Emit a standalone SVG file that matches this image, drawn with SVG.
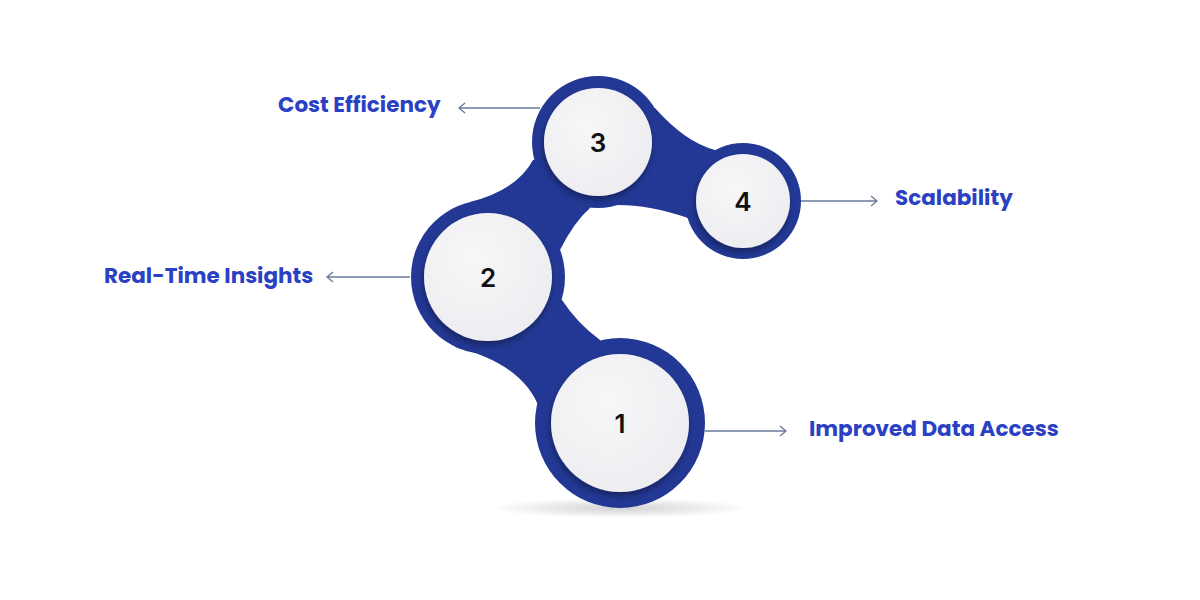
<svg xmlns="http://www.w3.org/2000/svg" width="1200" height="600" viewBox="0 0 1200 600">
<defs>
<style>
.lbl{font-family:"Poppins","Inter","Liberation Sans",sans-serif;font-weight:700;font-size:21.5px;fill:#2b41c4}
.num{font-family:"Inter","Liberation Sans",sans-serif;font-weight:600;font-size:26px;fill:#111;text-anchor:middle}
.blob{fill:#223894}
.inner{fill:url(#g)}
.con{stroke:#6a7b9c;stroke-width:1.3;fill:none}
</style>
<radialGradient id="g" cx="0.4" cy="0.35" r="0.75"><stop offset="0" stop-color="#f7f7f9"/><stop offset="1" stop-color="#ececf0"/></radialGradient>
<filter id="sh" x="-30%" y="-30%" width="160%" height="160%"><feDropShadow dx="-1" dy="4" stdDeviation="3" flood-color="#000" flood-opacity="0.35"/></filter>
<radialGradient id="gs" cx="0.5" cy="0.5" r="0.5"><stop offset="0" stop-color="#000" stop-opacity="0.18"/><stop offset="1" stop-color="#000" stop-opacity="0"/></radialGradient>
</defs>
<rect width="1200" height="600" fill="#fff"/>
<ellipse cx="620" cy="508" rx="130" ry="10" fill="url(#gs)"/>
<g id="body">
<path class="blob" d="M455,347 Q524,364 540,410 L620,423 L600,340 Q577,323 562,300 L488,277 Z"/>
<path class="blob" d="M470,202 Q517,190 533,160 L598,142 L590,208 Q574,222 560,250 L488,277 Z"/>
<path class="blob" d="M655,108 Q685,142 715,150 L743,201 L688,218 Q650,205 618,205 L598,142 Z"/>
<circle class="blob" cx="620" cy="423" r="85"/>
<circle class="blob" cx="488" cy="277" r="77"/>
<circle class="blob" cx="598" cy="142" r="66"/>
<circle class="blob" cx="743" cy="201" r="58"/>
</g>
<g id="n1"><circle class="inner" cx="620" cy="423" r="69" filter="url(#sh)"/><text class="num" x="620" y="433">1</text></g>
<g id="n2"><circle class="inner" cx="488" cy="277" r="64" filter="url(#sh)"/><text class="num" x="488" y="287">2</text></g>
<g id="n3"><circle class="inner" cx="598" cy="142" r="54" filter="url(#sh)"/><text class="num" x="598" y="152">3</text></g>
<g id="n4"><circle class="inner" cx="743" cy="201" r="47" filter="url(#sh)"/><text class="num" x="743" y="211">4</text></g>
<g id="connectors">
<path class="con" d="M705 431 H786 M780 426 L786 431 L780 436"/>
<path class="con" d="M410 277 H327 M333 272 L327 277 L333 282"/>
<path class="con" d="M540 108 H459 M465 103 L459 108 L465 113"/>
<path class="con" d="M801 201 H877 M871 196 L877 201 L871 206"/>
</g>
<text class="lbl" x="809" y="436">Improved Data Access</text>
<text class="lbl" x="104" y="283">Real-Time Insights</text>
<text class="lbl" x="278" y="112">Cost Efficiency</text>
<text class="lbl" x="895" y="205">Scalability</text>
</svg>
